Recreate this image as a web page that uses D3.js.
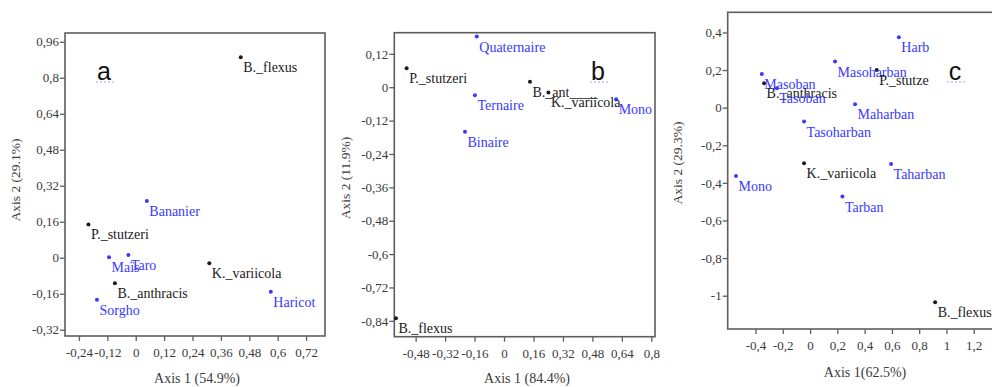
<!DOCTYPE html>
<html><head><meta charset="utf-8">
<script src="https://cdn.jsdelivr.net/npm/d3@7"></script>
<style>
html,body{margin:0;padding:0;background:#fff;}
svg{display:block;}
</style></head>
<body>
<svg id="chart" width="992" height="387"></svg>
<script>
// ---------- Panel a data ----------
const aNames  = ["B._flexus","Bananier","P._stutzeri","Maïs","Taro","B._anthracis","Sorgho","K._variicola","Haricot"];
const aX      = [0.444, 0.047, -0.200, -0.113, -0.031, -0.088, -0.164, 0.311, 0.571];
const aY      = [0.891, 0.252, 0.148, 0.002, 0.012, -0.114, -0.187, -0.025, -0.151];
const aType   = ["bact","soil","bact","soil","soil","bact","soil","bact","soil"];
const aXTicks = [-0.24,-0.12,0,0.12,0.24,0.36,0.48,0.6,0.72];
const aXLabels= ["-0,24","-0,12","0","0,12","0,24","0,36","0,48","0,6","0,72"];
const aYTicks = [-0.32,-0.16,0,0.16,0.32,0.48,0.64,0.8,0.96];
const aYLabels= ["-0,32","-0,16","0","0,16","0,32","0,48","0,64","0,8","0,96"];

// ---------- Panel b data ----------
const bNames  = ["Quaternaire","P._stutzeri","Ternaire","Binaire","B._ant____","K._variicola","Mono","B._flexus"];
const bX      = [-0.148, -0.529, -0.158, -0.212, 0.141, 0.241, 0.609, -0.587];
const bY      = [0.182, 0.068, -0.029, -0.160, 0.020, -0.019, -0.043, -0.831];
const bType   = ["soil","bact","soil","soil","bact","bact","soil","bact"];
const bXTicks = [-0.48,-0.32,-0.16,0,0.16,0.32,0.48,0.64,0.8];
const bXLabels= ["-0,48","-0,32","-0,16","0","0,16","0,32","0,48","0,64","0,8"];
const bYTicks = [-0.84,-0.72,-0.6,-0.48,-0.36,-0.24,-0.12,0,0.12];
const bYLabels= ["-0,84","-0,72","-0,6","-0,48","-0,36","-0,24","-0,12","0","0,12"];

// ---------- Panel c data ----------
const cNames  = ["Harb","Masoharban","P._stutze","Masoban","B._anthracis","Tasoban","Maharban","Tasoharban","K._variicola","Taharban","Mono","Tarban","B._flexus"];
const cX      = [0.651, 0.183, 0.489, -0.354, -0.337, -0.244, 0.330, -0.044, -0.044, 0.594, -0.543, 0.237, 0.917];
const cY      = [0.374, 0.245, 0.200, 0.179, 0.130, 0.103, 0.018, -0.074, -0.296, -0.300, -0.363, -0.473, -1.035];
const cType   = ["soil","soil","bact","soil","bact","soil","soil","soil","bact","soil","soil","soil","bact"];
const cXTicks = [-0.4,-0.2,0,0.2,0.4,0.6,0.8,1,1.2];
const cXLabels= ["-0,4","-0,2","0","0,2","0,4","0,6","0,8","1","1,2"];
const cYTicks = [-1,-0.8,-0.6,-0.4,-0.2,0,0.2,0.4];
const cYLabels= ["-1","-0,8","-0,6","-0,4","-0,2","0","0,2","0,4"];

const colors = {bact:"#1a1a1a", soil:"#3a3aff"};
const svg = d3.select("#chart");

function panel(cfg){
  const g = svg.append("g");
  const x = d3.scaleLinear().domain(cfg.xDom).range([cfg.left, cfg.right]);
  const y = d3.scaleLinear().domain(cfg.yDom).range([cfg.bottom, cfg.top]);

  // frame
  g.append("rect").attr("x",cfg.left).attr("y",cfg.top)
    .attr("width",cfg.right-cfg.left).attr("height",cfg.bottom-cfg.top)
    .attr("fill","none").attr("stroke","#5e5e5e").attr("stroke-width",1.6);

  // axes
  const xAxis = d3.axisBottom(x).tickValues(cfg.xTicks)
    .tickFormat((d,i)=>cfg.xLabels[i]).tickSize(5).tickPadding(7);
  const yAxis = d3.axisLeft(y).tickValues(cfg.yTicks)
    .tickFormat((d,i)=>cfg.yLabels[i]).tickSize(5).tickPadding(1);
  const gx = g.append("g").attr("transform",`translate(0,${cfg.bottom})`).call(xAxis);
  const gy = g.append("g").attr("transform",`translate(${cfg.left},0)`).call(yAxis);
  [gx,gy].forEach(a=>{
    a.select(".domain").remove();
    a.selectAll(".tick line").attr("stroke","#5e5e5e").attr("stroke-width",1.3);
    a.selectAll(".tick text").attr("fill","#3a3a3a")
      .style("font-family","'Liberation Serif', serif").style("font-size","13px");
  });

  // axis titles
  g.append("text").attr("x",cfg.xtX).attr("y",cfg.xtY).attr("text-anchor","middle")
    .attr("fill","#3a3a3a").style("font-family","'Liberation Serif', serif").style("font-size","14px")
    .text(cfg.xTitle);
  g.append("text").attr("transform",`translate(${cfg.ytX},${cfg.ytY}) rotate(-90)`)
    .attr("text-anchor","middle").attr("fill","#3a3a3a")
    .style("font-family","'Liberation Serif', serif").style("font-size","13.5px")
    .text(cfg.yTitle);

  // points
  const data = cfg.names.map((n,i)=>({n, x:cfg.xs[i], y:cfg.ys[i], t:cfg.types[i]}));
  g.selectAll("circle.pt").data(data).enter().append("circle").attr("class","pt")
    .attr("cx",d=>x(d.x)).attr("cy",d=>y(d.y)).attr("r",2)
    .attr("fill",d=>colors[d.t]);
  g.selectAll("text.lb").data(data).enter().append("text").attr("class","lb")
    .attr("x",d=>x(d.x)+2.5).attr("y",d=>y(d.y)+15)
    .attr("fill",d=>colors[d.t])
    .style("font-family","'Liberation Serif', serif").style("font-size","14px")
    .text(d=>d.n);

  // panel letter
  g.append("text").attr("x",cfg.letX).attr("y",80).attr("text-anchor","middle")
    .attr("fill","#111").style("font-family","'Liberation Sans', Arial, sans-serif")
    .style("font-size","25px").text(cfg.letter);
  g.append("line").attr("x1",cfg.letX-8).attr("x2",cfg.letX+10).attr("y1",82).attr("y2",82)
    .attr("stroke","#8a8aff").attr("stroke-width",0.8).attr("stroke-dasharray","2,2");
}

panel({left:65, right:325, top:33, bottom:336,
  xDom:[-0.299,0.800], yDom:[-0.348,0.999],
  xTicks:aXTicks, xLabels:aXLabels, yTicks:aYTicks, yLabels:aYLabels,
  names:aNames, xs:aX, ys:aY, types:aType,
  xTitle:"Axis 1 (54.9%)", xtX:197, xtY:383,
  yTitle:"Axis 2 (29.1%)", ytX:20, ytY:180,
  letter:"a", letX:104});

panel({left:394.3, right:655, top:32.7, bottom:336.7,
  xDom:[-0.596,0.820], yDom:[-0.897,0.196],
  xTicks:bXTicks, xLabels:bXLabels, yTicks:bYTicks, yLabels:bYLabels,
  names:bNames, xs:bX, ys:bY, types:bType,
  xTitle:"Axis 1 (84.4%)", xtX:527, xtY:383,
  yTitle:"Axis 2 (11.9%)", ytX:350, ytY:178,
  letter:"b", letX:598});

panel({left:727.7, right:1001, top:12.3, bottom:329,
  xDom:[-0.604,1.40], yDom:[-1.177,0.507],
  xTicks:cXTicks, xLabels:cXLabels, yTicks:cYTicks, yLabels:cYLabels,
  names:cNames, xs:cX, ys:cY, types:cType,
  xTitle:"Axis 1(62.5%)", xtX:865, xtY:377,
  yTitle:"Axis 2 (29.3%)", ytX:682, ytY:163,
  letter:"c", letX:955});
</script>
</body></html>
